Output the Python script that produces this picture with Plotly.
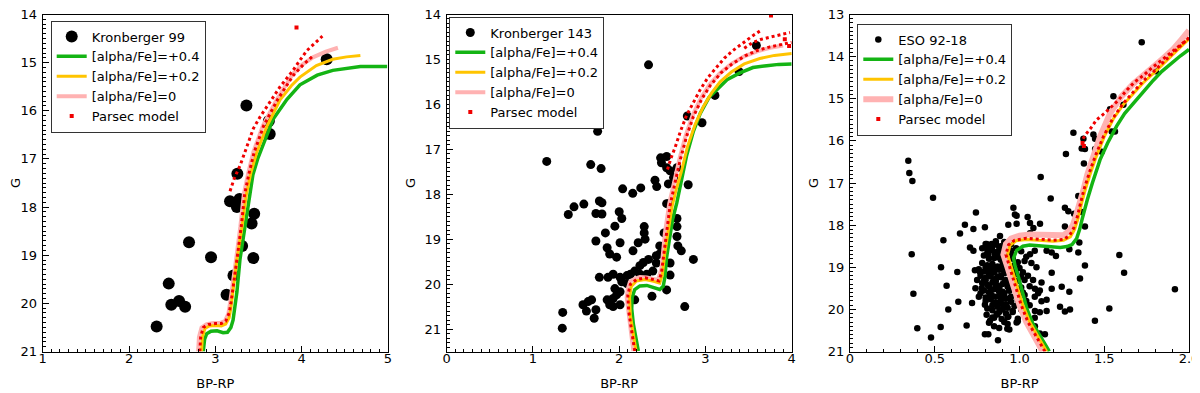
import plotly.graph_objects as go

# ---------------- Kronberger 99 ----------------
k99_bprp = [4.29, 3.36, 3.62, 3.63, 3.255, 3.17, 3.28, 3.25, 3.45, 3.42, 2.695, 3.31,
            2.95, 3.44, 3.21, 2.46, 2.49, 2.58, 2.65, 3.13, 2.32]
k99_g = [14.93, 15.89, 16.21, 16.48, 17.31, 17.88, 17.83, 18.0, 18.14, 18.34, 18.73, 18.81,
         19.04, 19.06, 19.42, 19.59, 20.03, 19.95, 20.07, 19.82, 20.48]

k99_a04_x = [2.86, 2.875, 2.90, 2.95, 3.02, 3.09, 3.14, 3.18, 3.205, 3.23, 3.25, 3.285, 3.34,
             3.40, 3.435, 3.49, 3.55, 3.67, 3.83, 3.98, 4.18, 4.36, 4.68, 4.99]
k99_a04_y = [21.0, 20.75, 20.63, 20.58, 20.57, 20.61, 20.6, 20.5, 20.35, 20.0, 19.76, 19.09, 18.40,
             17.73, 17.33, 17.0, 16.72, 16.17, 15.76, 15.46, 15.26, 15.16, 15.08, 15.08]
k99_a02_x = [2.84, 2.85, 2.88, 2.93, 3.0, 3.07, 3.12, 3.16, 3.18, 3.205, 3.25, 3.31, 3.36, 3.41,
             3.48, 3.60, 3.75, 3.88, 3.98, 4.17, 4.36, 4.52, 4.68]
k99_a02_y = [21.0, 20.7, 20.52, 20.47, 20.46, 20.47, 20.43, 20.3, 20.1, 19.76, 19.09, 18.40, 17.73,
             17.3, 16.86, 16.31, 15.77, 15.48, 15.30, 15.06, 14.93, 14.88, 14.85]
k99_a00_x = [2.80, 2.81, 2.84, 2.90, 2.98, 3.05, 3.11, 3.15, 3.17, 3.19, 3.24, 3.29, 3.33, 3.38,
             3.44, 3.55, 3.71, 3.90, 4.0, 4.13, 4.28, 4.42]
k99_a00_y = [21.0, 20.7, 20.5, 20.43, 20.41, 20.41, 20.37, 20.22, 20.0, 19.76, 19.09, 18.40, 17.73,
             17.3, 16.86, 16.31, 15.77, 15.23, 15.05, 14.89, 14.77, 14.69]
k99_ps_x = [2.82, 2.83, 2.86, 2.92, 3.0, 3.07, 3.12, 3.16, 3.18, 3.20, 3.25, 3.30, 3.34, 3.39,
            3.45, 3.56, 3.72, 3.90, 4.03, 4.12]
k99_ps_y = [21.0, 20.7, 20.5, 20.44, 20.42, 20.42, 20.37, 20.2, 20.0, 19.76, 19.09, 18.40, 17.73,
            17.3, 16.86, 16.31, 15.77, 15.27, 15.02, 14.88]
k99_ps2_x = [3.17, 3.22, 3.29, 3.36, 3.44, 3.52, 3.60, 3.68, 3.75, 3.83, 3.90, 3.98, 4.06, 4.15, 4.24]
k99_ps2_y = [17.67, 17.4, 17.12, 16.75, 16.37, 16.12, 15.91, 15.7, 15.50, 15.32, 15.16, 14.95,
             14.75, 14.6, 14.45]
k99_psdot_x = [3.94]
k99_psdot_y = [14.27]

# ---------------- Kronberger 143 ----------------
k143_bprp = [2.34, 3.59, 3.39, 3.11, 2.96, 2.79, 1.75, 1.16, 1.67, 1.79, 2.48, 2.55, 2.49, 2.55,
             2.59, 2.63, 2.67, 2.415, 2.435, 2.57, 2.80, 2.04, 2.157, 2.25, 2.57,
             1.41, 1.476, 1.59, 1.77, 1.80, 1.73, 1.80, 2.0, 2.03, 1.95, 1.84, 1.73, 2.01, 1.86,
             1.89, 1.97, 2.16, 2.22, 2.29, 2.29, 2.30, 2.47, 2.55, 2.67, 2.67, 2.67, 2.68,
             2.72, 2.86, 2.52, 2.47, 2.43, 2.34, 2.28, 2.43, 2.24, 2.39, 2.59, 2.59, 2.18, 2.13,
             2.24, 2.32, 1.77, 1.87, 1.93, 2.01, 2.09, 2.03, 2.09, 1.95, 2.01, 1.86, 1.93, 1.97,
             1.89, 1.93, 2.01, 2.18, 2.38, 2.55, 2.76, 1.58, 1.64, 1.68, 1.62, 1.73, 1.71, 1.345, 1.34]
k143_g = [15.12, 14.69, 15.27, 15.80, 16.41, 16.26, 16.60, 17.27, 17.34, 17.43, 17.19, 17.16,
          17.30, 17.41, 17.48, 17.63, 17.41, 17.69, 17.83, 17.77, 17.79, 17.88, 17.98, 17.86, 18.21,
          18.45, 18.28, 18.22, 18.15, 18.19, 18.43, 18.44, 18.39, 18.54, 18.71, 18.86, 19.04,
          19.08, 19.19, 19.33, 19.40, 19.26, 19.08, 18.72, 18.86, 19.0, 19.15, 18.21, 18.54,
          18.72, 18.94, 19.15, 19.26, 19.45, 18.86, 19.33, 19.37, 19.45, 19.52, 19.53, 19.59,
          19.71, 19.53, 19.80, 19.71, 19.78, 19.78, 19.78, 19.85, 19.85, 19.78, 19.85, 19.81,
          19.95, 19.99, 20.10, 20.17, 20.35, 20.32, 20.24, 20.46, 20.50, 20.46, 20.35, 20.27,
          20.13, 20.50, 20.46, 20.39, 20.35, 20.60, 20.57, 20.76, 20.63, 20.98]

k143_a04_x = [2.222, 2.19, 2.164, 2.145, 2.15, 2.18, 2.24, 2.32, 2.40, 2.47, 2.51, 2.53, 2.55,
              2.58, 2.62, 2.667, 2.72, 2.78, 2.86, 2.94, 3.04, 3.13, 3.25, 3.40, 3.55, 3.71, 3.85, 4.0]
k143_a04_y = [21.49, 21.2, 20.89, 20.55, 20.3, 20.12, 20.04, 20.03, 20.07, 20.12, 20.05, 19.85,
              19.4, 19.0, 18.55, 18.2, 17.7, 17.15, 16.6, 16.2, 15.85, 15.68, 15.45, 15.3, 15.18,
              15.14, 15.11, 15.10]
k143_a02_x = [2.195, 2.16, 2.13, 2.12, 2.14, 2.2, 2.3, 2.40, 2.47, 2.50, 2.53, 2.57, 2.61, 2.66,
              2.72, 2.79, 2.88, 2.975, 3.07, 3.17, 3.30, 3.45, 3.63, 3.80, 4.0]
k143_a02_y = [21.49, 21.1, 20.7, 20.3, 20.05, 19.93, 19.9, 19.94, 19.98, 19.8, 19.3, 18.8, 18.3,
              17.9, 17.5, 16.95, 16.45, 16.05, 15.75, 15.5, 15.28, 15.1, 14.98, 14.91, 14.87]
k143_a00_x = [2.164, 2.13, 2.10, 2.087, 2.1, 2.125, 2.18, 2.24, 2.32, 2.395, 2.45, 2.49, 2.51,
              2.53, 2.58, 2.64, 2.70, 2.77, 2.85, 2.95, 3.05, 3.17, 3.30, 3.45, 3.60, 3.75, 3.90]
k143_a00_y = [21.49, 21.0, 20.6, 20.3, 20.1, 19.95, 19.88, 19.84, 19.85, 19.88, 19.91, 19.66,
              19.3, 18.86, 18.21, 17.7, 17.2, 16.7, 16.25, 15.85, 15.55, 15.3, 15.1, 14.93, 14.82,
              14.74, 14.69]
k143_ps_x = [2.18, 2.14, 2.11, 2.10, 2.13, 2.2, 2.3, 2.40, 2.46, 2.49, 2.52, 2.545, 2.59, 2.65,
             2.71, 2.78, 2.86, 2.96, 3.06, 3.18, 3.31, 3.46, 3.60, 3.75, 3.90, 4.0]
k143_ps_y = [21.49, 21.0, 20.6, 20.25, 20.0, 19.9, 19.86, 19.9, 19.93, 19.75, 19.3, 18.86, 18.25,
             17.72, 17.22, 16.72, 16.27, 15.87, 15.57, 15.3, 15.1, 14.92, 14.8, 14.72, 14.66, 14.62]
k143_ps2_x = [2.56, 2.60, 2.65, 2.71, 2.78, 2.86, 2.94, 3.03, 3.13, 3.22, 3.32, 3.40, 3.48, 3.55, 3.63]
k143_ps2_y = [17.45, 17.2, 16.95, 16.6, 16.25, 15.95, 15.67, 15.4, 15.16, 14.97, 14.8, 14.68,
              14.58, 14.47, 14.37]
k143_ps3_x = [3.45, 3.55, 3.65, 3.75, 3.86, 3.98]
k143_ps3_y = [14.75, 14.62, 14.55, 14.5, 14.45, 14.40]
k143_psdot_x = [3.76, 3.92, 3.97]
k143_psdot_y = [14.02, 14.55, 14.7]

# ---------------- ESO 92-18 ----------------
eso_bprp = [1.721, 1.805, 1.554, 1.534, 1.613, 1.563, 1.544, 1.318, 1.436, 1.446, 1.377, 1.367,
            1.386, 1.446, 1.274, 1.38, 0.344, 0.35, 0.368, 0.49, 1.125, 1.184, 1.347, 1.485,
            0.743, 0.964, 0.973, 1.048, 0.983, 1.268, 1.288, 1.322, 1.367, 1.386, 1.268, 0.678,
            0.728, 0.649, 0.796, 0.934, 0.983, 1.062, 1.121, 1.082, 1.062, 0.885, 0.551, 0.364,
            0.708, 0.728, 0.806, 0.836, 0.816, 0.855, 0.885, 0.909, 1.062, 1.09, 1.16, 1.215,
            1.19, 1.294, 1.347, 1.353, 1.386, 1.357, 1.19, 1.589, 1.617, 1.917, 1.53, 1.445,
            0.537, 0.633, 0.374, 0.57, 0.58, 0.639, 0.397, 0.535, 0.478, 0.688, 0.737, 0.767,
            0.777, 0.796, 0.806, 0.826, 0.816, 0.796, 0.873, 0.84, 0.895, 0.865, 0.934, 0.928,
            0.983, 1.042, 1.091, 1.12, 1.16, 1.16, 1.13, 1.11, 1.091, 1.13, 1.19, 1.249, 1.294,
            1.239, 1.268, 1.298, 1.091, 1.12, 1.15,
            0.80, 0.83, 0.86, 0.88, 0.84, 0.87, 0.90, 0.92, 0.79, 0.82, 0.85, 0.89, 0.93, 0.96,
            0.78, 0.81, 0.84, 0.87, 0.90, 0.94, 0.97, 1.00, 0.76, 0.79, 0.82, 0.85, 0.88, 0.91,
            0.95, 0.98, 1.02, 1.05, 0.77, 0.80, 0.83, 0.86, 0.89, 0.92, 0.96, 0.99, 1.03, 0.78,
            0.81, 0.84, 0.87, 0.90, 0.93, 0.97, 1.01, 1.06, 0.79, 0.82, 0.85, 0.88, 0.91, 0.94,
            0.98, 1.02, 0.80, 0.83, 0.86, 0.89, 0.92, 0.95, 0.99, 1.04, 0.84, 0.87, 0.90, 0.93,
            0.97, 1.01, 0.88, 0.92, 0.96, 0.85, 0.99, 1.05, 0.93, 0.91, 0.95, 0.98, 1.01, 1.04,
            1.07, 1.10, 1.08, 1.12, 1.09, 0.75, 0.74, 0.76, 0.72, 0.95, 1.03, 0.86, 0.81,
            0.82, 0.86, 0.90, 0.88, 0.84, 0.91, 0.87, 0.83, 0.94, 0.89, 0.85, 0.92, 0.81, 0.96,
            0.87, 0.93, 0.90, 0.84, 0.88, 0.80, 0.97, 0.86, 0.91, 0.83]
eso_g = [13.66, 14.35, 14.94, 15.25, 15.14, 15.78, 15.78, 15.81, 15.85, 15.95, 15.95, 16.18,
         16.19, 16.19, 16.31, 16.54, 16.47, 16.76, 16.95, 17.35, 16.86, 17.37, 17.31, 16.26,
         17.70, 17.59, 17.75, 17.81, 17.78, 17.59, 17.67, 17.73, 17.69, 18.03, 18.03, 17.99,
         18.09, 18.20, 18.05, 17.99, 17.97, 17.95, 17.97, 18.07, 18.19, 18.26, 18.36, 18.69,
         18.53, 18.61, 18.45, 18.45, 18.69, 18.69, 18.73, 18.57, 18.69, 18.61, 18.61, 18.73,
         18.65, 18.57, 18.65, 18.41, 18.96, 19.27, 19.13, 18.71, 19.13, 19.52, 19.98, 20.27,
         19.0, 19.11, 19.63, 19.44, 20.0, 19.82, 20.45, 20.42, 20.67, 20.38, 19.07, 19.11,
         19.50, 19.89, 20.13, 20.27, 20.59, 20.59, 20.73, 20.19, 20.23, 20.11, 20.17, 20.46,
         20.31, 20.15, 20.04, 20.07, 20.04, 19.77, 19.81, 19.62, 19.51, 19.36, 19.51, 19.46,
         19.58, 19.94, 20.05, 20.0, 20.4, 20.57, 20.59,
         18.45, 18.48, 18.46, 18.52, 18.6, 18.63, 18.58, 18.7, 18.72, 18.8, 18.78, 18.82, 18.86,
         18.8, 18.9, 18.95, 18.92, 18.98, 18.94, 19.0, 18.95, 19.02, 19.05, 19.1, 19.08, 19.12,
         19.06, 19.14, 19.1, 19.16, 19.12, 19.2, 19.2, 19.25, 19.22, 19.28, 19.24, 19.3, 19.26,
         19.32, 19.3, 19.38, 19.42, 19.36, 19.44, 19.4, 19.46, 19.42, 19.48, 19.45, 19.55, 19.6,
         19.52, 19.58, 19.62, 19.56, 19.64, 19.6, 19.72, 19.76, 19.7, 19.78, 19.74, 19.82,
         19.78, 19.8, 19.9, 19.94, 19.88, 19.96, 19.92, 20.0, 20.06, 20.1, 20.04, 20.2, 20.22,
         20.3, 20.35, 18.4, 18.45, 18.55, 18.62, 18.75, 18.9, 19.0, 19.3, 19.55, 19.7, 19.3,
         19.5, 19.7, 19.85, 18.65, 18.85, 18.38, 18.58,
         19.18, 19.33, 19.05, 19.47, 19.68, 18.88, 19.52, 19.15, 19.35, 19.67, 19.84, 18.98,
         18.68, 19.4, 19.22, 18.9, 19.58, 19.0, 19.86, 19.31, 19.13, 19.45, 19.69, 19.57]
# extra stars in the dense turn-off core
eso_core_bprp = [0.78, 0.81, 0.84, 0.87, 0.90, 0.93, 0.96, 0.99,
                 0.80, 0.83, 0.86, 0.89, 0.92, 0.95, 0.98, 1.01,
                 0.79, 0.82, 0.85, 0.88, 0.91, 0.94, 0.97, 1.00,
                 0.77, 0.80, 0.83, 0.86, 0.89, 0.92, 0.95,
                 0.81, 0.84, 0.87, 0.90, 0.93, 0.96, 0.99,
                 0.82, 0.85, 0.88, 0.91, 0.94,
                 0.86, 0.89, 0.92, 0.95, 1.03, 1.06, 1.09]
eso_core_g = [18.55, 18.68, 18.50, 18.76, 18.64, 18.92, 18.72, 18.88,
              19.00, 19.15, 19.03, 19.20, 19.08, 19.26, 19.04, 19.22,
              19.32, 19.46, 19.30, 19.50, 19.36, 19.54, 19.38, 19.56,
              19.62, 19.80, 19.66, 19.84, 19.68, 19.88, 19.70,
              19.98, 20.02, 20.12, 20.00, 20.18, 20.06, 20.28,
              20.32, 20.40, 20.44, 20.30, 20.48,
              18.42, 18.50, 18.44, 18.60, 19.66, 19.90, 20.20]

eso_a04_x = [1.176, 1.13, 1.08, 1.045, 1.02, 0.995, 0.973, 0.965, 0.983, 1.02, 1.06, 1.12, 1.18,
             1.24, 1.28, 1.31, 1.337, 1.355, 1.37, 1.385, 1.40, 1.43, 1.475, 1.52, 1.573, 1.62,
             1.672, 1.73, 1.79, 1.84, 1.89, 1.95, 2.0]
eso_a04_y = [21.0, 20.68, 20.35, 20.0, 19.6, 19.25, 18.96, 18.78, 18.6, 18.5, 18.47, 18.49,
             18.52, 18.53, 18.51, 18.46, 18.32, 18.1, 17.85, 17.6, 17.4, 17.0, 16.45, 16.05, 15.65,
             15.35, 15.1, 14.82, 14.56, 14.35, 14.17, 13.98, 13.83]
eso_a02_x = [1.16, 1.11, 1.06, 1.02, 0.995, 0.97, 0.945, 0.93, 0.944, 0.98, 1.04, 1.12, 1.20,
             1.26, 1.30, 1.325, 1.345, 1.365, 1.386, 1.42, 1.455, 1.50, 1.553, 1.61, 1.672, 1.73,
             1.79, 1.85, 1.908, 1.955, 2.0]
eso_a02_y = [21.0, 20.65, 20.3, 19.9, 19.55, 19.2, 18.9, 18.7, 18.48, 18.37, 18.34, 18.36, 18.38,
             18.36, 18.28, 18.1, 17.85, 17.5, 17.18, 16.75, 16.35, 15.9, 15.48, 15.15, 14.87,
             14.62, 14.40, 14.17, 13.94, 13.75, 13.58]
eso_a00_x = [1.137, 1.09, 1.04, 1.0, 0.975, 0.95, 0.925, 0.905, 0.92, 0.95, 1.0, 1.06, 1.14,
             1.20, 1.26, 1.29, 1.315, 1.335, 1.355, 1.375, 1.40, 1.43, 1.475, 1.534, 1.60, 1.672,
             1.73, 1.79, 1.85, 1.908, 1.955, 2.0]
eso_a00_y = [21.0, 20.65, 20.3, 19.9, 19.55, 19.2, 18.95, 18.7, 18.45, 18.32, 18.25, 18.22,
             18.24, 18.26, 18.24, 18.15, 18.0, 17.75, 17.5, 17.2, 16.8, 16.45, 15.9, 15.35, 14.95,
             14.64, 14.42, 14.24, 14.03, 13.82, 13.6, 13.38]
eso_ps_x = [1.15, 1.10, 1.05, 1.01, 0.985, 0.96, 0.935, 0.92, 0.935, 0.97, 1.04, 1.12, 1.20,
            1.26, 1.295, 1.32, 1.34, 1.36, 1.38, 1.415, 1.45, 1.495, 1.55, 1.61, 1.67, 1.73, 1.79,
            1.85, 1.91, 1.955, 2.0]
eso_ps_y = [21.0, 20.65, 20.3, 19.9, 19.55, 19.2, 18.9, 18.7, 18.47, 18.36, 18.31, 18.34, 18.36,
            18.34, 18.25, 18.07, 17.82, 17.48, 17.16, 16.72, 16.33, 15.9, 15.47, 15.12, 14.84,
            14.58, 14.36, 14.13, 13.9, 13.72, 13.55]
eso_ps2_x = [1.375, 1.39, 1.42, 1.455, 1.50, 1.534, 1.58, 1.632, 1.68, 1.73, 1.78, 1.84, 1.90,
             1.95, 2.0]
eso_ps2_y = [15.95, 15.85, 15.7, 15.5, 15.35, 15.23, 15.05, 14.8, 14.6, 14.45, 14.27, 14.08,
             13.88, 13.72, 13.56]
eso_psdot_x = [1.372, 1.38]
eso_psdot_y = [16.05, 16.12]

GREEN = 'rgb(20,180,20)'
GOLD = 'rgb(255,196,0)'
PINK = 'rgb(255,178,178)'
RED = 'rgb(240,0,0)'

fig = go.Figure()


def add_panel(n, name, px, py, psize, a04, a02, a00, ps_lines, psdot, pink_w, leg):
    xa = 'x' if n == 1 else f'x{n}'
    ya = 'y' if n == 1 else f'y{n}'
    common = dict(xaxis=xa, yaxis=ya, legend=leg)
    fig.add_trace(go.Scatter(x=px, y=py, mode='markers', name=name, legendrank=1,
                             marker=dict(color='black', size=psize, line_width=0), **common))
    fig.add_trace(go.Scatter(x=a00[0], y=a00[1], mode='lines', name='[alpha/Fe]=0', legendrank=4,
                             line=dict(color=PINK, width=pink_w), **common))
    fig.add_trace(go.Scatter(x=a04[0], y=a04[1], mode='lines', name='[alpha/Fe]=+0.4', legendrank=2,
                             line=dict(color=GREEN, width=3.5), **common))
    fig.add_trace(go.Scatter(x=a02[0], y=a02[1], mode='lines', name='[alpha/Fe]=+0.2', legendrank=3,
                             line=dict(color=GOLD, width=3), **common))
    for xs, ys in ps_lines:
        fig.add_trace(go.Scatter(x=xs, y=ys, mode='lines', showlegend=False,
                                 line=dict(color=RED, width=3, dash='dot'), **common))
    fig.add_trace(go.Scatter(x=psdot[0], y=psdot[1], mode='markers', name='Parsec model', legendrank=5,
                             marker=dict(color=RED, size=4, symbol='square'), **common))


add_panel(1, 'Kronberger 99', k99_bprp, k99_g, 12,
          (k99_a04_x, k99_a04_y), (k99_a02_x, k99_a02_y), (k99_a00_x, k99_a00_y),
          [(k99_ps_x, k99_ps_y), (k99_ps2_x, k99_ps2_y)], (k99_psdot_x, k99_psdot_y), 4, 'legend')
add_panel(2, 'Kronberger 143', k143_bprp, k143_g, 9,
          (k143_a04_x, k143_a04_y), (k143_a02_x, k143_a02_y), (k143_a00_x, k143_a00_y),
          [(k143_ps_x, k143_ps_y), (k143_ps2_x, k143_ps2_y), (k143_ps3_x, k143_ps3_y)],
          (k143_psdot_x, k143_psdot_y), 4, 'legend2')
add_panel(3, 'ESO 92-18', eso_bprp + eso_core_bprp, eso_g + eso_core_g, 6.5,
          (eso_a04_x, eso_a04_y), (eso_a02_x, eso_a02_y), (eso_a00_x, eso_a00_y),
          [(eso_ps_x, eso_ps_y), (eso_ps2_x, eso_ps2_y)], (eso_psdot_x, eso_psdot_y), 6, 'legend3')

# page body adds an 8px margin, so screen pixels are shifted by OFF
W, H, OFF = 1200, 393, 8


def fx(sx):
    return (sx - OFF) / W


def fy(sy):
    return 1 - (sy - OFF) / H


# top kept a little lower than the original so the top tick label is not clipped
ydom = [fy(351.5), fy(14.5)]
xdoms = [[fx(42.7), fx(388)], [fx(446.7), fx(791.7)], [fx(850), fx(1189)]]
xranges = [[1, 5], [0, 4], [0, 2]]
yranges = [[21, 14], [21.5, 14], [21, 13]]

axis_style = dict(showline=True, linecolor='black', linewidth=1, mirror=True, ticks='inside',
                  ticklen=6, tickwidth=1, tickcolor='black', showgrid=False, zeroline=False,
                  automargin=False, ticklabeloverflow='allow', tickfont=dict(size=13, color='black'),
                  minor=dict(ticks='inside', ticklen=3, tickcolor='black', dtick=0.1, showgrid=False))

layout = dict()
for i in range(3):
    sfx = '' if i == 0 else str(i + 1)
    xa = dict(axis_style, domain=xdoms[i], range=xranges[i], anchor='y' + sfx, ticklabelstandoff=-5,
              title=dict(text='BP-RP', font=dict(size=13, color='black'), standoff=13))
    if i == 2:
        xa.update(tickvals=[0, 0.5, 1.0, 1.5, 2.0], ticktext=['0', '0.5', '1.0', '1.5', '2.0'])
    else:
        xa.update(dtick=1)
    ya = dict(axis_style, domain=ydom, range=yranges[i], anchor='x' + sfx, dtick=1,
              ticklabelstandoff=2,
              title=dict(text='G', font=dict(size=13, color='black'), standoff=6))
    layout['xaxis' + sfx] = xa
    layout['yaxis' + sfx] = ya

leg_style = dict(xanchor='left', yanchor='top', bgcolor='white', bordercolor='#333', borderwidth=1,
                 font=dict(size=13, color='black'), itemwidth=30)
layout['legend'] = dict(leg_style, x=fx(50.7), y=fy(20.5))
layout['legend2'] = dict(leg_style, x=fx(449.3), y=fy(16.5))
layout['legend3'] = dict(leg_style, x=fx(857.3), y=fy(23.5))

fig.update_layout(layout)
fig.update_layout(width=W, height=H, margin=dict(l=0, r=0, t=0, b=0), template='none',
                  paper_bgcolor='white', plot_bgcolor='white',
                  font=dict(family='DejaVu Sans', color='black'))

fig.write_html('out.html')
